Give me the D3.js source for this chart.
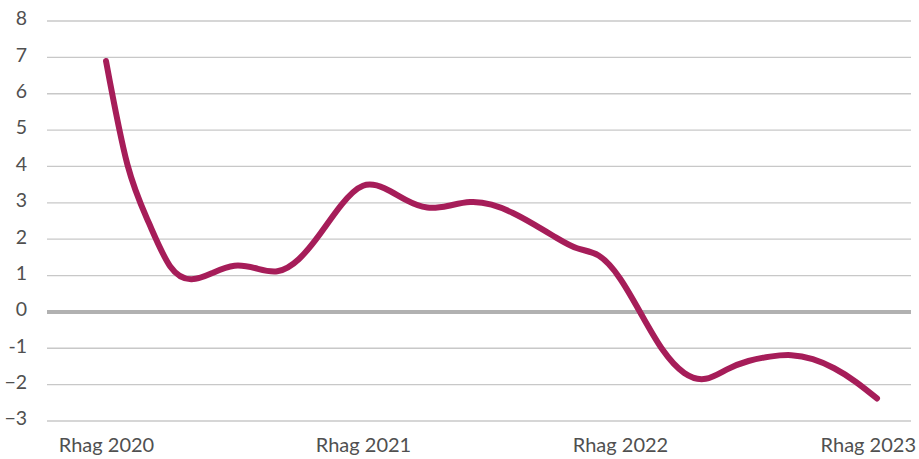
<!DOCTYPE html>
<html>
<head>
<meta charset="utf-8">
<script src="https://cdn.jsdelivr.net/npm/d3@7/dist/d3.min.js"></script>
<style>
  html, body { margin: 0; padding: 0; background: #ffffff; }
  svg { display: block; }
  text { font-family: Lato, "Open Sans", sans-serif; fill: #505050; }
</style>
</head>
<body>
<svg id="chart" width="919" height="459"></svg>
<script>
// Monthly series, Rhag 2020 to Rhag 2023 (month index 0..36)
const monthIndex = d3.range(0, 37);
const values = [
  6.9, 4.05, 2.45, 1.25, 0.9, 1.08, 1.27, 1.2, 1.12, 1.45,
  2.15, 2.95, 3.47, 3.4, 3.08, 2.87, 2.92, 3.02, 2.95, 2.72,
  2.4, 2.05, 1.75, 1.55, 0.92, -0.07, -1.05, -1.68, -1.84, -1.58,
  -1.35, -1.23, -1.19, -1.3, -1.55, -1.92, -2.38
];

// Axis labels
const xTickIndex = [0, 12, 24, 36];
const xTickLabels = ["Rhag 2020", "Rhag 2021", "Rhag 2022", "Rhag 2023"];
const yTickValues = [-3, -2, -1, 0, 1, 2, 3, 4, 5, 6, 7, 8];
const yTickLabels = ["−3", "−2", "-1", "0", "1", "2", "3", "4", "5", "6", "7", "8"];

const W = 919, H = 459;
const svg = d3.select("#chart");

const x = d3.scaleLinear().domain([0, 36]).range([106, 877]);
const y = d3.scaleLinear().domain([-3, 8]).range([421, 21]);

const gridLeft = 47, gridRight = 911;

// Horizontal gridlines
svg.append("g")
  .selectAll("line")
  .data(yTickValues.filter(v => v !== 0))
  .join("line")
  .attr("x1", gridLeft).attr("x2", gridRight)
  .attr("y1", d => y(d)).attr("y2", d => y(d))
  .attr("stroke", "#c8c8c8")
  .attr("stroke-width", 1.3);

// Zero line
svg.append("line")
  .attr("x1", gridLeft).attr("x2", gridRight)
  .attr("y1", y(0)).attr("y2", y(0))
  .attr("stroke", "#b1b1b1")
  .attr("stroke-width", 4);

// Y axis labels
const yAxis = d3.axisLeft(y)
  .tickValues(yTickValues)
  .tickSize(0)
  .tickPadding(0)
  .tickFormat((d, i) => yTickLabels[i]);
const gy = svg.append("g").attr("transform", "translate(27,0)").call(yAxis);
gy.select(".domain").remove();
gy.selectAll("text")
  .attr("font-size", 19.5)
  .attr("font-family", "Lato, 'Open Sans', sans-serif")
  .attr("fill", "#505050")
  .attr("dy", "0.2em");

// X axis labels
const xAxis = d3.axisBottom(x)
  .tickValues(xTickIndex)
  .tickSize(0)
  .tickPadding(0)
  .tickFormat((d, i) => xTickLabels[i]);
const gx = svg.append("g").attr("transform", "translate(0,438)").call(xAxis);
gx.select(".domain").remove();
gx.selectAll("text")
  .attr("font-size", 20)
  .attr("font-family", "Lato, 'Open Sans', sans-serif")
  .attr("fill", "#505050")
  .attr("dy", "0.71em")
  .each(function () {
    // keep the end labels inside the canvas
    const t = d3.select(this);
    const bb = this.getBBox();
    const tick = this.parentNode;
    const tx = +d3.select(tick).attr("transform").match(/translate\(([-\d.]+)/)[1];
    const right = tx + bb.x + bb.width;
    if (right > W - 3) t.attr("x", (W - 3) - right);
  });

// Series line
const line = d3.line()
  .x((d, i) => x(monthIndex[i]))
  .y(d => y(d))
  .curve(d3.curveNatural);

svg.append("path")
  .datum(values)
  .attr("d", line)
  .attr("fill", "none")
  .attr("stroke", "#a61d59")
  .attr("stroke-width", 6)
  .attr("stroke-linecap", "round")
  .attr("stroke-linejoin", "round");
</script>
</body>
</html>
